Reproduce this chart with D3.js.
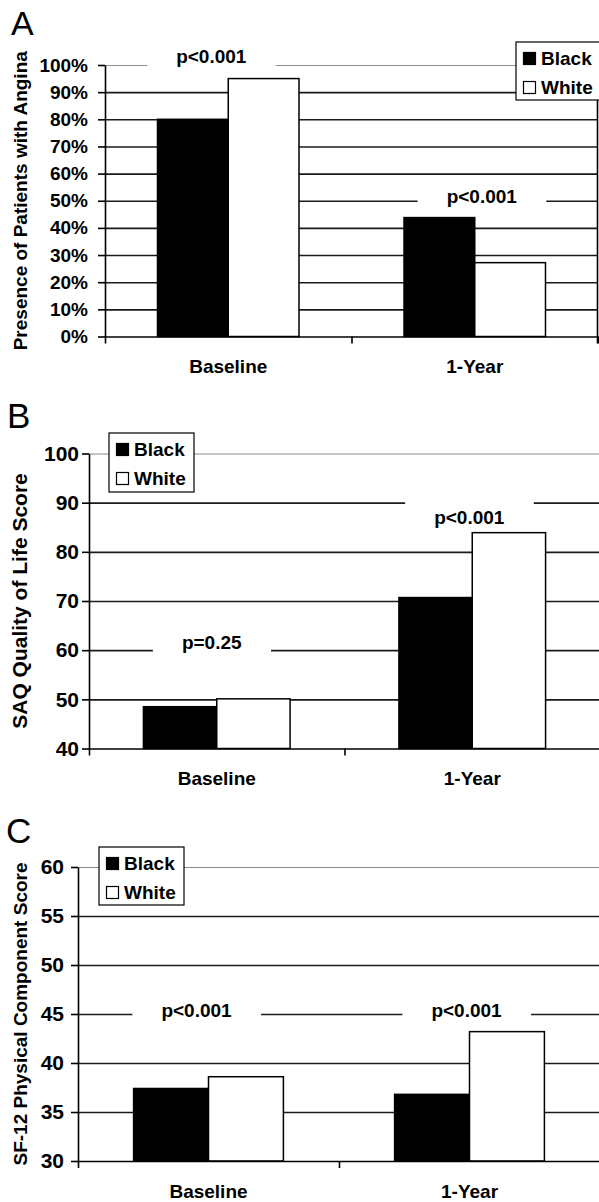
<!DOCTYPE html>
<html>
<head>
<meta charset="utf-8">
<script src="https://cdn.jsdelivr.net/npm/d3@7"></script>
<style>
body { margin: 0; background: #fff; }
svg { display: block; font-family: "Liberation Sans", Arial, sans-serif; }
</style>
</head>
<body>
<svg width="599" height="1202"></svg>
<script>
/* data */
var categories = ["Baseline", "1-Year"];
var groups = ["Black", "White"];

var anginaBlack = [80, 43.8];
var anginaWhite = [95, 27.2];
var anginaTicks = [0, 10, 20, 30, 40, 50, 60, 70, 80, 90, 100];
var anginaP = ["p<0.001", "p<0.001"];
var anginaPLine = [100, 50];

var saqBlack = [48.5, 70.7];
var saqWhite = [50.1, 83.9];
var saqTicks = [40, 50, 60, 70, 80, 90, 100];
var saqP = ["p=0.25", "p<0.001"];
var saqPLine = [60, 90];

var sf12Black = [37.4, 36.8];
var sf12White = [38.6, 43.2];
var sf12Ticks = [30, 35, 40, 45, 50, 55, 60];
var sf12P = ["p<0.001", "p<0.001"];
var sf12PLine = [45, 45];

var svg = d3.select("svg");

/* layout of the three panels */
var panels = [
  {letter: "A", letterSize: 34, letterX: 11, letterY: 35,
   title: "Presence of Patients with Angina", titleSize: 19,
   black: anginaBlack, white: anginaWhite, ticks: anginaTicks, fmt: function(d) { return d + "%"; },
   tickSize: 19, tickPad: 10,
   pText: anginaP, pLine: anginaPLine, pShift: [-17, 7], pDy: [-2, 2],
   left: 105, right: 598, top: 65, bottom: 336.5, border: true,
   legend: {x: 516, y: 42, w: 90, h: 58}},
  {letter: "B", letterSize: 35, letterX: 7, letterY: 428,
   title: "SAQ Quality of Life Score", titleSize: 21,
   black: saqBlack, white: saqWhite, ticks: saqTicks, fmt: String,
   tickSize: 21, tickPad: 3,
   pText: saqP, pLine: saqPLine, pShift: [-5, -3], pDy: [-1, 21],
   left: 89, right: 600, top: 453.5, bottom: 748.5, border: false,
   legend: {x: 109, y: 433, w: 85, h: 59}},
  {letter: "C", letterSize: 35, letterX: 6, letterY: 843,
   title: "SF-12 Physical Component Score", titleSize: 19,
   black: sf12Black, white: sf12White, ticks: sf12Ticks, fmt: String,
   tickSize: 21, tickPad: 7,
   pText: sf12P, pLine: sf12PLine, pShift: [-12, -3], pDy: [3, 3],
   left: 78, right: 600, top: 867, bottom: 1161, border: false,
   legend: {x: 99, y: 847, w: 85, h: 58}}
];

panels.forEach(drawPanel);

function drawPanel(p) {
  var g = svg.append("g");
  var yMax = d3.max(p.ticks);

  var y = d3.scaleLinear()
      .domain(d3.extent(p.ticks))
      .range([p.bottom, p.top]);

  var x0 = d3.scaleBand()
      .domain(categories)
      .range([p.left, p.right]);
  var bw = x0.bandwidth();

  var x1 = d3.scaleBand()
      .domain(groups)
      .range([bw * 0.213, bw * 0.787]);

  /* boundaries between the categories */
  var xb = d3.scaleLinear()
      .domain([0, categories.length])
      .range([p.left, p.right]);

  /* gridlines */
  g.append("g")
      .attr("transform", "translate(" + p.left + ",0)")
      .call(d3.axisLeft(y).tickValues(p.ticks.slice(1)).tickSize(-(p.right - p.left)).tickFormat(""))
      .call(function(s) { s.select(".domain").remove(); })
    .selectAll("line")
      .attr("stroke", function(d) { return d === yMax ? "#8c8c8c" : "#1a1a1a"; })
      .attr("stroke-width", function(d) { return d === yMax ? 1 : 1.6; });

  /* p-value labels with a white box over the gridline */
  p.pText.forEach(function(t, i) {
    var cx = x0(categories[i]) + bw / 2 + p.pShift[i];
    var gy = y(p.pLine[i]);
    var box = g.append("rect").attr("fill", "#fff");
    var txt = g.append("text")
        .attr("x", cx)
        .attr("y", gy + p.pDy[i])
        .attr("text-anchor", "middle")
        .attr("font-size", 19)
        .attr("font-weight", "bold")
        .text(t);
    var bb = txt.node().getBBox();
    var y0 = Math.min(bb.y, gy - 3);
    var y1 = Math.max(bb.y + bb.height, gy + 3);
    box.attr("x", bb.x - 29).attr("width", bb.width + 58)
       .attr("y", y0).attr("height", y1 - y0);
  });

  /* bars */
  var rows = categories.map(function(c, i) {
    return {cat: c, values: [{key: "Black", v: p.black[i]}, {key: "White", v: p.white[i]}]};
  });

  g.append("g").selectAll("g")
    .data(rows)
    .enter().append("g")
      .attr("transform", function(d) { return "translate(" + x0(d.cat) + ",0)"; })
    .selectAll("rect")
    .data(function(d) { return d.values; })
    .enter().append("rect")
      .attr("x", function(d) { return x1(d.key); })
      .attr("width", x1.bandwidth())
      .attr("y", function(d) { return y(d.v); })
      .attr("height", function(d) { return y(d3.min(p.ticks)) - y(d.v); })
      .attr("fill", function(d) { return d.key === "Black" ? "#000" : "#fff"; })
      .attr("stroke", "#000")
      .attr("stroke-width", 1.5);

  /* y axis */
  var yAxis = g.append("g")
      .attr("transform", "translate(" + p.left + ",0)")
      .call(d3.axisLeft(y).tickValues(p.ticks).tickFormat(p.fmt).tickSize(7).tickSizeOuter(0).tickPadding(p.tickPad));
  yAxis.selectAll("text")
      .attr("font-size", p.tickSize)
      .attr("font-weight", "bold")
      .attr("font-family", "Liberation Sans, Arial, sans-serif")
      .attr("fill", "#000");
  yAxis.selectAll("line, path").attr("stroke", "#000").attr("stroke-width", 1.6);

  /* x axis: ticks at the category boundaries */
  var xAxis = g.append("g")
      .attr("transform", "translate(0," + p.bottom + ")")
      .call(d3.axisBottom(xb).tickValues(d3.range(categories.length + 1)).tickFormat("").tickSize(7).tickSizeOuter(0));
  xAxis.selectAll("line, path").attr("stroke", "#000").attr("stroke-width", 1.6);

  /* category labels */
  var cAxis = g.append("g")
      .attr("transform", "translate(0," + p.bottom + ")")
      .call(d3.axisBottom(x0).tickSize(0).tickPadding(23.5));
  cAxis.select(".domain").remove();
  cAxis.selectAll("text")
      .attr("font-size", 19)
      .attr("font-weight", "bold")
      .attr("font-family", "Liberation Sans, Arial, sans-serif")
      .attr("fill", "#000");

  if (p.border) {
    g.append("line")
        .attr("x1", p.right - 0.5).attr("x2", p.right - 0.5)
        .attr("y1", y(yMax)).attr("y2", p.bottom + 7)
        .attr("stroke", "#000")
        .attr("stroke-width", 1.6);
  }

  /* axis title */
  g.append("text")
      .attr("transform", "translate(26.5," + ((p.top + p.bottom) / 2) + ") rotate(-90)")
      .attr("text-anchor", "middle")
      .attr("font-size", p.titleSize)
      .attr("font-weight", "bold")
      .text(p.title);

  /* panel letter */
  g.append("text")
      .attr("x", p.letterX)
      .attr("y", p.letterY)
      .attr("font-size", p.letterSize)
      .text(p.letter);

  /* legend */
  var lg = g.append("g")
      .attr("transform", "translate(" + p.legend.x + "," + p.legend.y + ")");
  lg.append("rect")
      .attr("width", p.legend.w)
      .attr("height", p.legend.h)
      .attr("fill", "#fff")
      .attr("stroke", "#000")
      .attr("stroke-width", 1.2);
  var item = lg.selectAll(".item")
    .data(groups)
    .enter().append("g")
      .attr("class", "item")
      .attr("transform", function(d, i) { return "translate(0," + (i * 29) + ")"; });
  item.append("rect")
      .attr("x", 7.5)
      .attr("y", 10.5)
      .attr("width", 12)
      .attr("height", 12)
      .attr("fill", function(d) { return d === "Black" ? "#000" : "#fff"; })
      .attr("stroke", "#000")
      .attr("stroke-width", 1.2);
  item.append("text")
      .attr("x", 25)
      .attr("y", 22.5)
      .attr("font-size", 19)
      .attr("font-weight", "bold")
      .text(function(d) { return d; });
}
</script>
</body>
</html>
